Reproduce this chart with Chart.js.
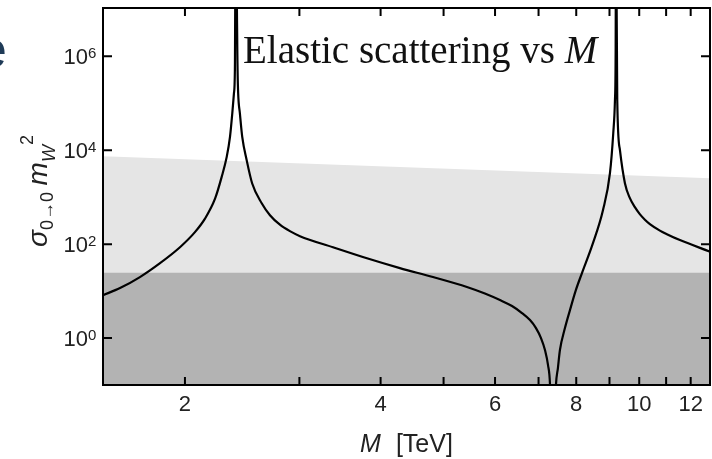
<!DOCTYPE html>
<html>
<head>
<meta charset="utf-8">
<script src="https://cdn.jsdelivr.net/npm/chart.js@4.4.1/dist/chart.umd.min.js"></script>
<style>
  html, body { margin: 0; padding: 0; background: #fff; overflow: hidden; }
</style>
</head>
<body>
<canvas id="chart" width="712" height="459"></canvas>
<script>
// Curve: M [TeV] and sigma * mW^2
const curveM = [1.496, 1.589, 1.705, 1.831, 1.965, 2.072, 2.147, 2.225, 2.278, 2.319, 2.346, 2.365, 2.379, 2.387, 2.394,
  2.410, 2.415, 2.430, 2.450, 2.489, 2.538, 2.625, 2.703, 2.800, 2.901, 3.006, 3.379, 3.811, 4.283, 4.815, 5.431,
  5.788, 6.105, 6.372, 6.601, 6.791, 6.937, 7.061, 7.161, 7.238, 7.290, 7.354, 7.445, 7.497, 7.551, 7.686, 7.824,
  7.989, 8.164, 8.488, 8.794, 9.015, 9.121, 9.176, 9.199, 9.209, 9.251, 9.340, 9.506, 9.675, 9.848, 10.02, 10.203,
  10.385, 10.76, 11.03, 11.55, 12.85];
const curveSigma = [8.2, 11.6, 19.9, 39.4, 86, 180, 349, 929, 2704, 7210, 19230, 60260, 162000, 501000, 1e9,
  501000, 162000, 60260, 19230, 6120, 1954, 745, 414, 260, 189, 148, 86, 50, 30.9, 19.9, 12.2,
  8.85, 6.43, 4.80, 3.40, 2.41, 1.63, 1.0, 0.556, 0.267, 0.1, 0.001, 0.1, 0.23, 0.556, 1.63, 3.94,
  10.5, 24.2, 105, 529, 3240, 23000, 116000, 1.34e6, 1e9, 116000, 10000, 1990, 952, 613, 435, 332,
  267, 194, 163, 122, 69.2];

// light grey band (upper edge) and dark grey band (upper edge)
const lightBandM = [1.496, 12.85];
const lightBandSigma = [7450, 2530];
const darkBandM = [1.496, 12.85];
const darkBandSigma = [24.5, 24.5];

// ticks
const xTickValues = [2, 3, 4, 5, 6, 7, 8, 9, 10, 11, 12];
const xTickLabels = ['2', '', '4', '', '6', '', '8', '', '10', '', '12'];
const yTickValues = [1, 100, 1e4, 1e6];
const yTickExponents = ['0', '2', '4', '6'];

const toPoints = (xs, ys) => xs.map((v, i) => ({ x: v, y: ys[i] }));

const SANS = '"Liberation Sans", Arial, sans-serif';
const SERIF = '"Liberation Serif", "Times New Roman", serif';

// рамка, внутренние засечки и все подписи
const frameAndLabels = {
  id: 'frameAndLabels',
  afterDraw(chart) {
    const { ctx, chartArea, scales } = chart;
    const { left, right, top, bottom } = chartArea;
    const xs = scales.x, ys = scales.y;

    ctx.save();
    ctx.strokeStyle = '#000';
    ctx.lineWidth = 2;
    ctx.strokeRect(left, top, right - left, bottom - top);

    ctx.beginPath();
    xTickValues.forEach(v => {
      const px = xs.getPixelForValue(v);
      ctx.moveTo(px, bottom); ctx.lineTo(px, bottom - 8);
      ctx.moveTo(px, top); ctx.lineTo(px, top + 8);
    });
    yTickValues.forEach(v => {
      const py = ys.getPixelForValue(v);
      ctx.moveTo(left, py); ctx.lineTo(left + 9, py);
      ctx.moveTo(right, py); ctx.lineTo(right - 9, py);
    });
    ctx.stroke();

    // x tick labels
    ctx.fillStyle = '#222';
    ctx.font = '22px ' + SANS;
    ctx.textAlign = 'center';
    ctx.textBaseline = 'middle';
    xTickValues.forEach((v, i) => {
      if (xTickLabels[i]) ctx.fillText(xTickLabels[i], xs.getPixelForValue(v), 405);
    });

    // y tick labels 10^n
    ctx.textBaseline = 'alphabetic';
    yTickValues.forEach((v, i) => {
      const py = ys.getPixelForValue(v);
      ctx.font = '22px ' + SANS;
      ctx.textAlign = 'right';
      ctx.fillText('10', 88, py + 8);
      ctx.font = '15px ' + SANS;
      ctx.textAlign = 'left';
      ctx.fillText(yTickExponents[i], 88, py + 1.5);
    });

    // x axis title: M [TeV]
    const cx = (left + right) / 2;
    ctx.font = 'italic 25px ' + SANS;
    const wM = ctx.measureText('M').width;
    ctx.font = '25px ' + SANS;
    const wT = ctx.measureText('[TeV]').width;
    const gap = 15;
    const tx = cx - (wM + gap + wT) / 2;
    ctx.textAlign = 'left';
    ctx.font = 'italic 25px ' + SANS;
    ctx.fillText('M', tx, 452);
    ctx.font = '25px ' + SANS;
    ctx.fillText('[TeV]', tx + wM + gap, 452);

    // y axis title: sigma_{0->0} m_W^2
    ctx.save();
    ctx.translate(47, 191);
    ctx.rotate(-Math.PI / 2);
    const parts = [
      { t: '\u03C3', f: 'italic 28px ', dy: 0 },
      { t: '0\u21920', f: '18px ', dy: 6 },
      { t: ' ', f: '24px ', dy: 0 },
      { t: 'm', f: 'italic 28px ', dy: 0 },
      { t: 'W', f: 'italic 18px ', dy: 8 },
      { t: '2', f: '18px ', dy: -14 }
    ];
    let total = 0;
    parts.forEach(p => { ctx.font = p.f + SANS; p.w = ctx.measureText(p.t).width; total += p.w; });
    let px = -total / 2;
    parts.forEach(p => { ctx.font = p.f + SANS; ctx.fillText(p.t, px, p.dy); px += p.w; });
    ctx.restore();

    // panel title inside the plot
    ctx.fillStyle = '#111';
    ctx.font = '39px ' + SERIF;
    const t1 = 'Elastic scattering vs ';
    ctx.fillText(t1, 243, 63);
    const w1 = ctx.measureText(t1).width;
    ctx.font = 'italic 39px ' + SERIF;
    ctx.fillText('M', 243 + w1, 63);

    // обрезанная буква заголовка слайда
    ctx.fillStyle = '#1f3b57';
    ctx.font = '52px ' + SANS;
    ctx.fillText('e', -22, 67);

    ctx.restore();
  }
};

new Chart(document.getElementById('chart'), {
  type: 'line',
  data: {
    datasets: [
      {
        data: toPoints(curveM, curveSigma),
        borderColor: '#000',
        borderWidth: 2.2,
        pointRadius: 0,
        cubicInterpolationMode: 'monotone',
        fill: false
      },
      {
        data: toPoints(darkBandM, darkBandSigma),
        borderWidth: 0,
        pointRadius: 0,
        backgroundColor: '#b3b3b3',
        fill: 'start'
      },
      {
        data: toPoints(lightBandM, lightBandSigma),
        borderWidth: 0,
        pointRadius: 0,
        backgroundColor: '#e5e5e5',
        fill: 'start'
      }
    ]
  },
  options: {
    responsive: false,
    animation: false,
    devicePixelRatio: 1,
    layout: { padding: { top: 8, right: 2, left: 0, bottom: 0 } },
    plugins: { legend: { display: false }, tooltip: { enabled: false } },
    scales: {
      x: {
        type: 'logarithmic',
        min: 1.496,
        max: 12.85,
        grid: { display: false },
        border: { display: false },
        ticks: { display: false },
        afterFit(s) { s.height = 74; }
      },
      y: {
        type: 'logarithmic',
        min: 0.1,
        max: 1.07e7,
        grid: { display: false },
        border: { display: false },
        ticks: { display: false },
        afterFit(s) { s.width = 103; }
      }
    }
  },
  plugins: [frameAndLabels]
});
</script>
</body>
</html>
